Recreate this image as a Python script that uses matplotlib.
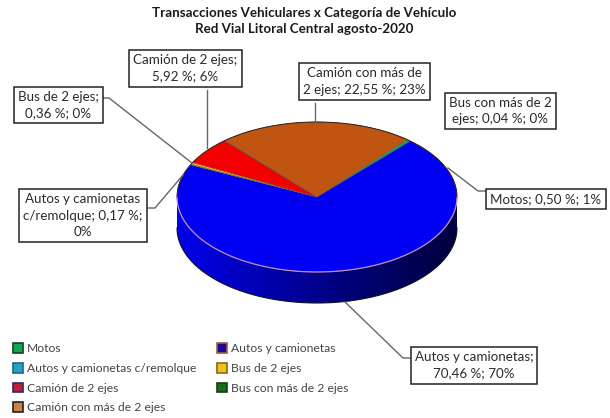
import numpy as np
import matplotlib
matplotlib.use('Agg')
import matplotlib.pyplot as plt
from matplotlib.colors import LinearSegmentedColormap
from matplotlib.patches import Patch, Polygon

W, H = 610, 418

categories = ['Motos', 'Autos y camionetas', 'Autos y camionetas c/remolque', 'Bus de 2 ejes',
              'Camión de 2 ejes', 'Bus con más de 2 ejes', 'Camión con más de 2 ejes']
values = [0.50, 70.46, 0.17, 0.36, 5.92, 0.04, 22.55]
slice_colors = ['#1fa34a', '#0000f5', '#ffc000', '#ffc000', '#f50000', '#1a6a1a', '#bf5510']
legend_colors = ['#12a650', '#1a0a9a', '#2aa0c0', '#f0c020', '#c0203a', '#1a6a1a', '#d08040']
legend_edges = ['#14402a', '#a0603a', '#1a6a8a', '#8a6a10', '#2a2a6a', '#144014', '#222222']

title = 'Transacciones Vehiculares x Categoría de Vehículo\nRed Vial Litoral Central agosto-2020'

label_texts = ['Motos; 0,50 %; 1%',
               'Autos y camionetas;\n70,46 %; 70%',
               'Autos y camionetas\nc/remolque; 0,17 %;\n0%',
               'Bus de 2 ejes;\n0,36 %; 0%',
               'Camión de 2 ejes;\n5,92 %; 6%',
               'Bus con más de 2\nejes; 0,04 %; 0%',
               'Camión con más de\n2 ejes; 22,55 %; 23%']
label_pos = [(546, 199), (474, 365.5), (83, 215.5), (58, 105), (185.5, 68.5), (500.5, 111), (364.5, 81.5)]

leaders = [[(448, 168), (478, 191), (486, 191)],
           [(345, 302), (403, 358), (410, 358)],
           [(148, 208), (155, 208), (183, 175)],
           [(103, 98), (109, 98), (192, 163)],
           [(207, 90), (207, 148)],
           [(315, 103), (315, 123)]]

plt.rcParams['font.family'] = ['Lato', 'DejaVu Sans']

fig = plt.figure(figsize=(W / 100, H / 100), dpi=100)

# pie squashed into an ellipse by its axes box, extra room below for the wall
cx, cy, rx, ry, depth = 317, 197, 140, 75, 31
ax = fig.add_axes([(cx - rx) / W, 1 - (cy + ry + depth) / H, 2 * rx / W, (2 * ry + depth) / H])
d = depth / ry

# side wall, darker toward the right
t = np.radians(np.linspace(180, 360, 200))
wall_x = np.cos(t)
wall_y = np.sin(t)
wall = Polygon(np.column_stack([np.r_[wall_x, wall_x[::-1]], np.r_[wall_y - d, wall_y[::-1]]]),
               transform=ax.transData, facecolor='none', edgecolor='none')
ax.add_patch(wall)
wall_cmap = LinearSegmentedColormap.from_list('wall', ['#0000eb', '#00008c', '#00003c'])
im = ax.imshow(np.linspace(0, 1, 256).reshape(1, -1), cmap=wall_cmap, extent=(-1, 1, -1 - d, 1),
               aspect='auto', zorder=1)
im.set_clip_path(wall)

wedges, _ = ax.pie(values, colors=slice_colors, startangle=50, counterclock=False, radius=1,
                   wedgeprops={'linewidth': 0.3, 'edgecolor': '#555555', 'zorder': 2})
ax.set_aspect('auto')
ax.set_xlim(-1, 1)
ax.set_ylim(-1 - d, 1)

# rims and outline
ax.plot(wall_x, wall_y, color='#c48ac4', lw=0.9, clip_on=False, zorder=3)
ax.plot(wall_x, wall_y - d, color='#101020', lw=0.8, clip_on=False, zorder=3)
t = np.radians(np.linspace(0, 180, 200))
ax.plot(np.cos(t), np.sin(t), color='#3a1a1a', lw=0.7, clip_on=False, zorder=3)

# overlay in picture pixels for the callouts
ov = fig.add_axes([0, 0, 1, 1], facecolor='none')
ov.set_xlim(0, W)
ov.set_ylim(H, 0)
ov.axis('off')

for pts in leaders:
    xs, ys = zip(*pts)
    ov.plot(xs, ys, color='#666666', lw=1.0, zorder=4)

for txt, (x, y) in zip(label_texts, label_pos):
    ov.text(x, y, txt, ha='center', va='center', fontsize=9.6, color='#2a2a2a', linespacing=1.42, zorder=5,
            bbox={'boxstyle': 'square,pad=0.3', 'facecolor': 'white', 'edgecolor': '#222222', 'linewidth': 1.1})

ov.text(304, 21, title, ha='center', va='center', fontsize=9.65, fontweight='bold', color='#1a1a1a', linespacing=1.42)

handles = [Patch(facecolor=c, edgecolor=e, linewidth=1.2) for c, e in zip(legend_colors, legend_edges)]
order = [0, 2, 4, 6, 1, 3, 5]
leg = fig.legend([handles[i] for i in order], [categories[i] for i in order], ncol=2,
                 loc='lower left', bbox_to_anchor=(8 / W, 0.0), frameon=False, fontsize=8.75,
                 handlelength=0.85, handleheight=0.85, handletextpad=0.3, labelspacing=0.7,
                 columnspacing=1.7, labelcolor='#444444', borderpad=0.2, borderaxespad=0.2)

fig.savefig('out.png', dpi=100)
